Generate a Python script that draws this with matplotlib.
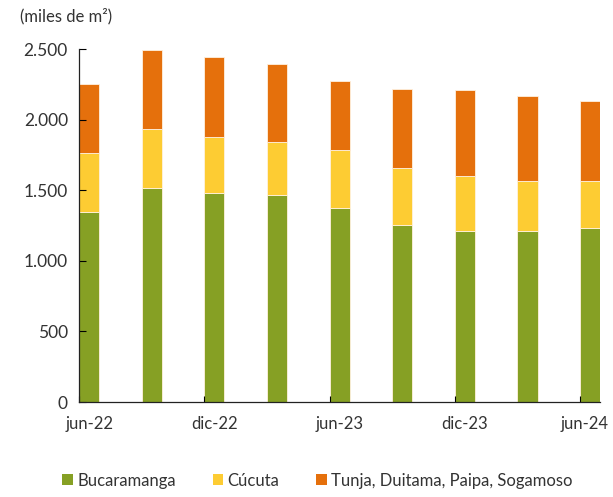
import matplotlib
matplotlib.use("Agg")
import matplotlib.pyplot as plt
import matplotlib.transforms as mtransforms
import numpy as np
from matplotlib.patches import Patch

periods = ["jun-22", "sep-22", "dic-22", "mar-23", "jun-23", "sep-23", "dic-23", "mar-24", "jun-24"]
bucaramanga = [1348, 1520, 1478, 1466, 1376, 1258, 1211, 1211, 1230]
cucuta = [418, 418, 399, 380, 409, 397, 392, 358, 339]
tunja = [491, 555, 568, 546, 491, 564, 609, 598, 561]
series_names = ["Bucaramanga", "Cúcuta", "Tunja, Duitama, Paipa, Sogamoso"]
colors = ["#86A024", "#FDCC33", "#E5700C"]
yticks = [0, 500, 1000, 1500, 2000, 2500]
ytick_labels = ["0", "500", "1.000", "1.500", "2.000", "2.500"]

plt.rcParams['font.family'] = ['Lato', 'DejaVu Sans']
txt = "#333333"

fig = plt.figure(figsize=(6.13, 4.97), dpi=100)
ax = fig.add_axes([0.129, 0.191, 0.850, 0.710])

x = np.arange(len(periods))
w = 0.32
b1 = np.array(bucaramanga)
b2 = np.array(cucuta)
b3 = np.array(tunja)
ec = "#FFF1DF"
ax.bar(x, b1, width=w, align='edge', color=colors[0], edgecolor=ec, linewidth=0.6)
ax.bar(x, b2, width=w, bottom=b1, align='edge', color=colors[1], edgecolor=ec, linewidth=0.6)
ax.bar(x, b3, width=w, bottom=b1 + b2, align='edge', color=colors[2], edgecolor=ec, linewidth=0.6)

ax.set_xlim(0, len(periods) - 1 + w)
ax.set_ylim(0, 2500)
ax.set_yticks(yticks)
ax.set_yticklabels(ytick_labels, fontsize=12.5, color=txt)

lab_idx = x[::2]
ax.set_xticks(lab_idx + w / 2)
ax.set_xticklabels([periods[i] for i in lab_idx], fontsize=12, color=txt)
ax.tick_params(axis='x', which='major', length=0, pad=10)
ax.set_xticks(lab_idx, minor=True)
ax.tick_params(axis='x', which='minor', length=4, direction='in', width=0.8)
ax.tick_params(axis='y', length=5, direction='in', width=0.8, pad=8)

last = ax.get_xticklabels()[-1]
last.set_transform(last.get_transform() + mtransforms.ScaledTranslation(-6 / 100, 0, fig.dpi_scale_trans))

for s in ['top', 'right']:
    ax.spines[s].set_visible(False)
for s in ['left', 'bottom']:
    ax.spines[s].set_linewidth(0.9)
    ax.spines[s].set_color("#222222")

fig.text(0.033, 0.968, "(miles de m²)", fontsize=12, color=txt, ha='left', va='center')

handles = [Patch(facecolor=c, edgecolor='none') for c in colors]
fig.legend(handles, series_names, loc='center', bbox_to_anchor=(0.518, 0.033), ncol=3,
           frameon=False, fontsize=12, handlelength=0.65, handleheight=0.65,
           handletextpad=0.25, columnspacing=2.2, labelcolor=txt)

fig.savefig("out.png", dpi=100)
